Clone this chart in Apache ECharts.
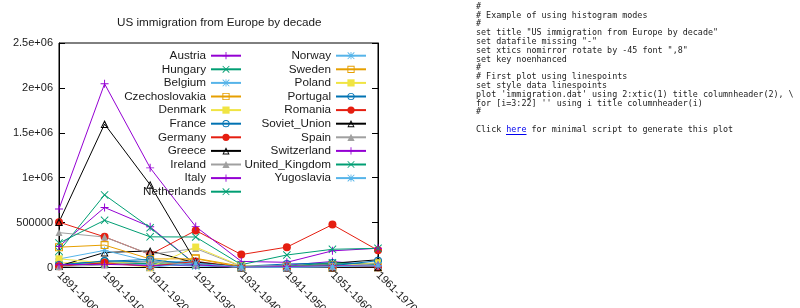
<!DOCTYPE html>
<html>
<head>
<meta charset="utf-8">
<script src="https://cdn.jsdelivr.net/npm/echarts@6/dist/echarts.min.js"></script>
<style>
  html, body { margin: 0; padding: 0; background: #fff; }
  #chart { width: 800px; height: 308px; }
</style>
</head>
<body>
<div id="chart"></div>
<script>
// ---- data ----
const decades = ['1891-1900', '1901-1910', '1911-1920', '1921-1930', '1931-1940', '1941-1950', '1951-1960', '1961-1970'];
const countries = ['Austria', 'Hungary', 'Belgium', 'Czechoslovakia', 'Denmark', 'France', 'Germany', 'Greece', 'Ireland', 'Italy', 'Netherlands',
  'Norway', 'Sweden', 'Poland', 'Portugal', 'Romania', 'Soviet_Union', 'Spain', 'Switzerland', 'United_Kingdom', 'Yugoslavia'];
const Austria        = [234081, 668209, 453649, 32868, 3563, 24860, 67106, 20621];
const Hungary        = [181288, 808511, 442693, 30680, 7861, 3469, 36637, 5401];
const Belgium        = [18167, 41635, 33746, 15846, 4817, 12189, 18575, 9192];
const Czechoslovakia = [null, null, 3426, 102194, 14393, 8347, 918, 3273];
const Denmark        = [50231, 65285, 41983, 32430, 2559, 5393, 10984, 9201];
const France         = [30770, 73379, 61897, 49610, 12623, 38809, 51121, 45237];
const Germany        = [505152, 341498, 143945, 412202, 144058, 226578, 477765, 190796];
const Greece         = [15979, 167519, 184201, 51084, 9119, 8973, 47608, 85969];
const Ireland        = [388416, 339065, 146181, 211234, 10973, 19789, 43362, 32966];
const Italy          = [651893, 2045877, 1109524, 455315, 68028, 57661, 185491, 214111];
const Netherlands    = [26758, 48262, 43718, 26948, 7150, 14860, 52277, 30606];
const Norway         = [95015, 190505, 66395, 68531, 4740, 10100, 22935, 15484];
const Sweden         = [226266, 249534, 95074, 97249, 3960, 10665, 21697, 17116];
const Poland         = [96720, null, 4813, 227734, 17026, 7571, 9985, 53539];
const Portugal       = [27508, 69149, 89732, 29994, 3329, 7423, 19588, 76065];
const Romania        = [12750, 53008, 13311, 67646, 3871, 1076, 1039, 3531];
const Soviet_Union   = [505290, 1597306, 921201, 61742, 1370, 571, 671, 2465];
const Spain          = [8731, 27935, 68611, 28958, 3258, 2898, 7894, 44659];
const Switzerland    = [31179, 34922, 23091, 29676, 5512, 10547, 17675, 18453];
const United_Kingdom = [271538, 525950, 341408, 339570, 31572, 139306, 202824, 213822];
const Yugoslavia     = [null, null, 1888, 49064, 5835, 1576, 8225, 20381];
const yTickLabels = ['0', '500000', '1e+06', '1.5e+06', '2e+06', '2.5e+06'];
const titleText = 'US immigration from Europe by decade';
const codeLines = [
  '#',
  '# Example of using histogram modes',
  '#',
  'set title "US immigration from Europe by decade"',
  'set datafile missing "-"',
  'set xtics nomirror rotate by -45 font ",8"',
  'set key noenhanced',
  '#',
  '# First plot using linespoints',
  'set style data linespoints',
  "plot 'immigration.dat' using 2:xtic(1) title columnheader(2), \\",
  "for [i=3:22] '' using i title columnheader(i)",
  '#',
  '',
  'Click {l|here} for minimal script to generate this plot'
];

const seriesValues = [Austria, Hungary, Belgium, Czechoslovakia, Denmark, France, Germany, Greece, Ireland, Italy, Netherlands,
  Norway, Sweden, Poland, Portugal, Romania, Soviet_Union, Spain, Switzerland, United_Kingdom, Yugoslavia];

// ---- styles ----
const palette = ['#9400d3', '#009e73', '#56b4e9', '#e69f00', '#f0e442', '#0072b2', '#e51e10', '#000000', '#a0a0a0'];
const plusP = 'M4.4,0H5.6V10H4.4Z M0,4.4H10V5.6H0Z';
const crossP = 'M0.8,0L5,4.2L9.2,0L10,0.8L5.8,5L10,9.2L9.2,10L5,5.8L0.8,10L0,9.2L4.2,5L0,0.8Z';
const oSquareP = 'M0,0H10V10H0Z M1.3,1.3V8.7H8.7V1.3Z';
const oCircleP = 'M0,5A5,5 0 1,1 10,5A5,5 0 1,1 0,5Z M1.3,5A3.7,3.7 0 1,0 8.7,5A3.7,3.7 0 1,0 1.3,5Z';
const oTriP = 'M5,0L10,10L0,10Z M5,2.9L1.9,8.7L8.1,8.7Z';
const symbols = ['path://' + plusP, 'path://' + crossP, 'path://' + plusP + ' ' + crossP,
  'path://' + oSquareP, 'rect', 'path://' + oCircleP, 'circle', 'path://' + oTriP, 'triangle'];
const symbolSizes = [8, 8, 8, 8, 7, 8, 8, 8, 7];
const FONT = 'Liberation Sans';
const TXT = '#1a1a1a';

const series = countries.map((name, i) => {
  const k = i % 9;
  return {
    name: name,
    type: 'line',
    data: seriesValues[i],
    connectNulls: true,
    symbol: symbols[k],
    symbolSize: symbolSizes[k],
    showAllSymbol: true,
    color: palette[k],
    lineStyle: { width: 1, color: palette[k] },
    itemStyle: { color: palette[k], borderWidth: 0 },
    emphasis: { disabled: true },
    animation: false
  };
});

const legends = countries.map((name, i) => {
  const col = i < 11 ? 0 : 1;
  const row = col === 0 ? i : i - 11;
  return {
    data: [name],
    orient: 'vertical',
    align: 'right',
    right: col === 0 ? 558 : 433,
    top: 48.7 + row * 13.6,
    padding: 0,
    itemGap: 0,
    itemWidth: 30,
    itemHeight: 9,
    selectedMode: false,
    itemStyle: { borderWidth: 0 },
    textStyle: { fontFamily: FONT, fontSize: 11.7, color: TXT, lineHeight: 14, padding: 0 }
  };
});

const chart = echarts.init(document.getElementById('chart'), null, { renderer: 'canvas' });
chart.setOption({
  animation: false,
  backgroundColor: '#fff',
  title: [
    { text: titleText, left: 117, top: 16.5, padding: 0,
      textStyle: { fontFamily: FONT, fontSize: 11.7, fontWeight: 'normal', color: TXT } },
    { text: codeLines.join('\n'), left: 476, top: 2.2, padding: 0,
      textStyle: { fontFamily: 'DejaVu Sans Mono', fontSize: 8.4, fontWeight: 'normal', color: '#222', lineHeight: 8.8,
        rich: { l: { color: '#0000ee', fontFamily: 'DejaVu Sans Mono', fontSize: 8.4, lineHeight: 8.8 } } } }
  ],
  legend: legends,
  grid: { left: 59, top: 43, width: 319, height: 224.5, show: true, borderColor: '#000', borderWidth: 1,
    containLabel: false, outerBoundsMode: 'none' },
  xAxis: {
    type: 'category',
    data: decades,
    boundaryGap: false,
    axisLine: { show: true, lineStyle: { color: '#000', width: 1 } },
    axisTick: { show: false },
    axisLabel: { rotate: -45, fontFamily: FONT, fontSize: 11, color: TXT, margin: 6, interval: 0 },
    splitLine: { show: false }
  },
  yAxis: [
    {
      type: 'value', min: 0, max: 2500000, interval: 500000,
      axisLine: { show: true, lineStyle: { color: '#000', width: 1 } },
      axisTick: { show: true, inside: true, length: 6, lineStyle: { color: '#000' } },
      axisLabel: { fontFamily: FONT, fontSize: 11, color: TXT, margin: 6,
        formatter: v => yTickLabels[Math.round(v / 500000)] },
      splitLine: { show: false }
    },
    {
      type: 'value', position: 'right', min: 0, max: 2500000, interval: 500000,
      axisLine: { show: true, lineStyle: { color: '#000', width: 1 } },
      axisTick: { show: true, inside: true, length: 6, lineStyle: { color: '#000' } },
      axisLabel: { show: false },
      splitLine: { show: false }
    }
  ],
  graphic: [
    { type: 'line', shape: { x1: 506, y1: 134.5, x2: 526.5, y2: 134.5 }, style: { stroke: '#0000ee', lineWidth: 1 } }
  ],
  series: series
});
</script>
</body>
</html>
